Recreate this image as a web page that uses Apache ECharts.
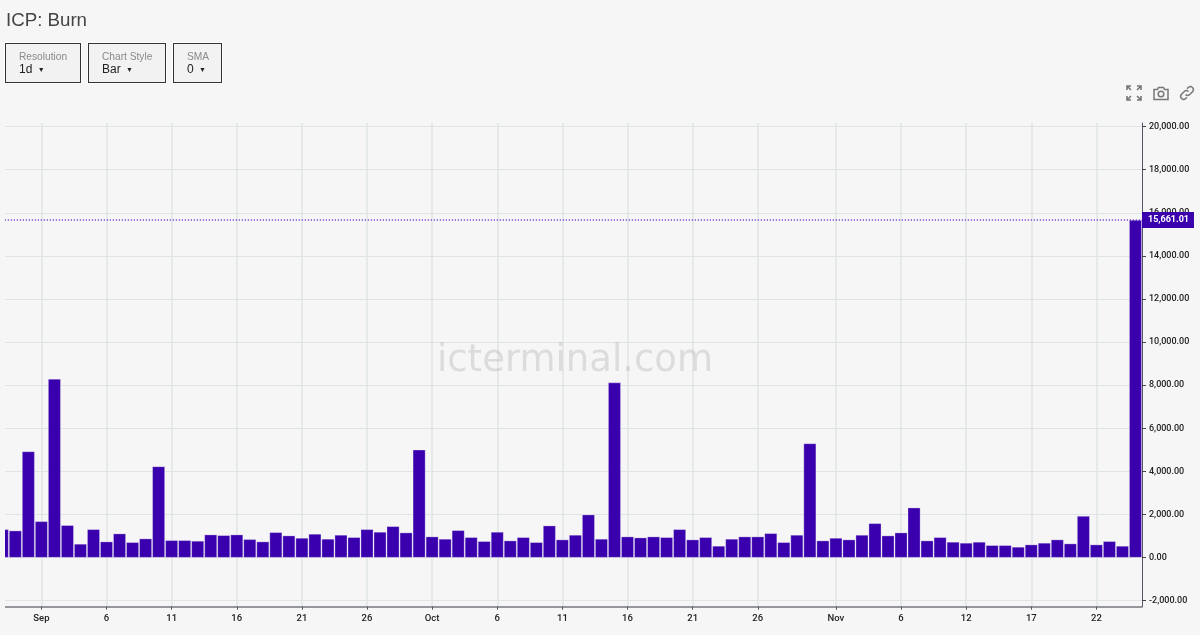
<!DOCTYPE html>
<html>
<head>
<meta charset="utf-8">
<title>ICP: Burn</title>
<script src="https://cdn.jsdelivr.net/npm/echarts@6/dist/echarts.min.js"></script>
<style>
  html, body { margin: 0; padding: 0; background: #f6f6f6; overflow: hidden; }
  #chart { position: absolute; left: 0; top: 0; width: 1200px; height: 635px; }
  #title { position: absolute; left: 6px; top: 9px; font: 18.7px "Liberation Sans", Arial, sans-serif; color: #444; }
  .pick { position: absolute; top: 43px; height: 38px; border: 1px solid #333; background: #f2f2f2;
    font: 10.2px "Liberation Sans", Arial, sans-serif; box-shadow: 0 0 0 1px #fff; }
  .pick .name { position: absolute; top: 7px; color: #8a8a8a; white-space: nowrap; }
  .pick .val { position: absolute; top: 18px; color: #222; font-size: 12px; white-space: nowrap; }
  .pick .val i { font-style: normal; font-size: 7px; margin-left: 2px; vertical-align: 1px; }
  .icon { position: absolute; top: 85px; }
</style>
</head>
<body>
<div id="chart"></div>
<div id="title">ICP: Burn</div>
<div class="pick" style="left:5px;width:74px"><span class="name" style="left:13px">Resolution</span><span class="val" style="left:13px">1d <i>▼</i></span></div>
<div class="pick" style="left:88px;width:76px"><span class="name" style="left:13px">Chart Style</span><span class="val" style="left:13px">Bar <i>▼</i></span></div>
<div class="pick" style="left:173px;width:47px"><span class="name" style="left:13px">SMA</span><span class="val" style="left:13px">0 <i>▼</i></span></div>

<svg class="icon" style="left:1126px" width="16" height="16" viewBox="0 0 16 16" fill="none" stroke="#777" stroke-width="1.6">
  <path d="M1 5V1h4M1 1l4 4M11 1h4v4M15 1l-4 4M1 11v4h4M1 15l4-4M15 11v4h-4M15 15l-4-4"/>
</svg>
<svg class="icon" style="left:1153px" width="16" height="16" viewBox="0 0 16 16" fill="none" stroke="#777" stroke-width="1.5">
  <path d="M1 4.5h3.5l1-2h5l1 2H15v10H1z"/><circle cx="8" cy="9" r="2.8"/>
</svg>
<svg class="icon" style="left:1179px" width="16" height="16" viewBox="0 0 16 16" fill="none" stroke="#777" stroke-width="1.5">
  <path d="M6.5 9.5a3 3 0 0 0 4.2 0l3-3a3 3 0 0 0-4.2-4.2L8 3.8"/><path d="M9.5 6.5a3 3 0 0 0-4.2 0l-3 3a3 3 0 0 0 4.2 4.2L8 12.2"/>
</svg>

<script>
// day labels, one per bar (the data skips a day in november)
var categories = [
  '29','30','31','Sep','2','3','4','5','6','7','8','9','10','11','12','13','14','15','16','17','18','19','20','21','22','23','24','25','26','27','28','29','30',
  'Oct','2','3','4','5','6','7','8','9','10','11','12','13','14','15','16','17','18','19','20','21','22','23','24','25','26','27','28','29','30','31',
  'Nov','2','3','4','5','6','7','8','9','10','12','13','14','15','16','17','18','19','20','21','22','23','24','25'
];
var burnValues = [
  1312, 1250, 4925, 1683, 8290, 1500, 633, 1312, 741, 1112, 710, 880, 4230, 803, 803, 772, 1065, 1034, 1065, 850, 741, 1173,
  1019, 910, 1096, 865, 1050, 942, 1312, 1189, 1451, 1158, 5003, 973, 865, 1266, 942, 757, 1189, 787, 942, 710, 1482, 834, 1050,
  1992, 865, 8120, 973, 926, 973, 942, 1312, 834, 942, 540, 865, 973, 973, 1127, 710, 1050, 5296, 787, 910, 834, 1050,
  1590, 1019, 1158, 2316, 787, 942, 726, 680, 726, 571, 571, 494, 602, 680, 834, 648, 1930, 602, 757, 540, 15661.01
];
var labelledBars = [3, 8, 13, 18, 23, 28, 33, 38, 43, 48, 53, 58, 64, 69, 74, 79, 84];
var lastValue = 15661.01;

var barColor = '#3a00ad';
var gridColor = '#dfe4e4';

function isLabelled(index) {
  return labelledBars.indexOf(index) >= 0;
}

var chart = echarts.init(document.getElementById('chart'), null, { renderer: 'canvas' });

chart.setOption({
  animation: false,
  backgroundColor: '#f6f6f6',
  textStyle: { fontFamily: 'Roboto, sans-serif' },
  // grid 0 carries the bars and the value scale, grid 1 is a bit taller and only draws the frame and the dates
  grid: [
    { left: -4.2, width: 1146.2, top: 126.6, height: 474.1, outerBoundsMode: 'none' },
    { left: -4.2, width: 1146.2, top: 123, height: 483.7, outerBoundsMode: 'none' }
  ],
  xAxis: [
    {
      type: 'category', gridIndex: 0, data: categories,
      axisLine: { show: false }, axisTick: { show: false }, axisLabel: { show: false }, splitLine: { show: false }
    },
    {
      type: 'category', gridIndex: 1, data: categories, position: 'bottom',
      axisLine: { show: true, onZero: false, lineStyle: { color: '#77777f', width: 1.5 } },
      axisTick: { show: true, alignWithLabel: true, interval: isLabelled, length: 3, lineStyle: { color: '#555' } },
      axisLabel: { show: true, interval: isLabelled, color: '#222', fontSize: 9.5, fontWeight: 500, margin: 7, hideOverlap: false },
      splitLine: { show: true, alignWithLabel: true, interval: isLabelled, lineStyle: { color: gridColor, width: 1.5 } }
    }
  ],
  yAxis: [
    {
      type: 'value', gridIndex: 0, position: 'right', min: -2000, max: 20000, interval: 2000,
      axisLine: { show: false },
      axisTick: { show: true, length: 4, lineStyle: { color: '#444' } },
      axisLabel: {
        color: '#222', fontSize: 9, fontWeight: 500, margin: 7,
        formatter: function (v) {
          return v.toLocaleString('en-US', { minimumFractionDigits: 2, maximumFractionDigits: 2 });
        }
      },
      splitLine: { show: true, lineStyle: { color: gridColor, width: 1 } }
    },
    {
      type: 'value', gridIndex: 1, position: 'right', min: 0, max: 1,
      axisLine: { show: true, lineStyle: { color: '#55556a', width: 1 } },
      axisTick: { show: false }, axisLabel: { show: false }, splitLine: { show: false }
    }
  ],
  series: [
    {
      name: 'Burn', type: 'bar', xAxisIndex: 0, yAxisIndex: 0, data: burnValues,
      barWidth: 12.6,
      itemStyle: { color: barColor, borderColor: 'rgba(255,255,255,0.6)', borderWidth: 0.5 },
      markLine: {
        silent: true, symbol: 'none', animation: false,
        data: [{ yAxis: lastValue }],
        lineStyle: { color: '#5a2bc0', type: [1, 2], width: 1.5 },
        label: {
          show: true, position: 'end', distance: 0, color: '#fff', fontSize: 9, fontWeight: 700,
          backgroundColor: barColor, padding: [4, 5, 3, 6],
          formatter: function () {
            return lastValue.toLocaleString('en-US', { minimumFractionDigits: 2 });
          }
        },
        z: 20
      }
    }
  ],
  graphic: [
    {
      type: 'text', left: 437, top: 343, silent: true, z: 50,
      style: { text: 'icterminal.com', fill: 'rgba(150,150,150,0.27)', font: '37px "DejaVu Sans", sans-serif' }
    },
    // the first bar is cut off by the left edge of the plot
    {
      type: 'rect', left: 0, top: 118, silent: true, z: 60,
      shape: { width: 5, height: 495 }, style: { fill: '#f6f6f6' }
    }
  ]
});
</script>
</body>
</html>
